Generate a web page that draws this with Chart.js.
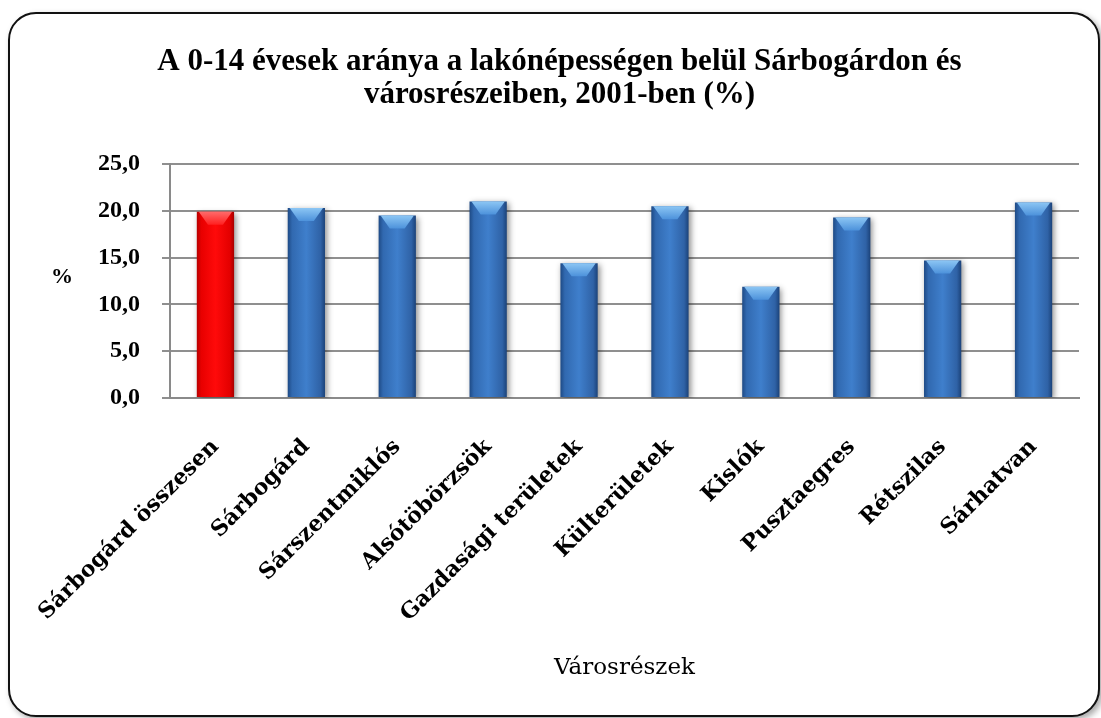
<!DOCTYPE html>
<html>
<head>
<meta charset="utf-8">
<script src="https://cdn.jsdelivr.net/npm/chart.js@4"></script>
<style>
  html, body { margin: 0; padding: 0; background: #fff; overflow: hidden; }
  #frame {
    position: absolute; left: 8px; top: 12px; width: 1088px; height: 701px;
    border: 2px solid #111; border-radius: 28px; background: #fff;
    box-shadow: 3px 3px 6px rgba(0,0,0,0.35);
    overflow: hidden;
  }
  #chart { display: block; }
</style>
</head>
<body>
<div id="frame"><canvas id="chart" width="1088" height="701"></canvas></div>
<script>
const categories = ['Sárbogárd összesen', 'Sárbogárd', 'Sárszentmiklós', 'Alsótöbörzsök',
  'Gazdasági területek', 'Külterületek', 'Kislók', 'Pusztaegres', 'Rétszilas', 'Sárhatvan'];
const values = [19.9, 20.3, 19.5, 21.0, 14.4, 20.5, 11.9, 19.3, 14.7, 20.9];
const yTicks = [0, 5, 10, 15, 20, 25];

const SERIF = '"Liberation Serif", "DejaVu Serif", serif';
const WIDE_SERIF = '"DejaVu Serif", "Liberation Serif", serif';
const BAR_PCT = 0.41;

function barFill(ctx) {
  const chart = ctx.chart;
  const xs = chart.scales.x;
  const red = ctx.dataIndex === 0;
  if (!xs || xs.width == null) return red ? '#f00000' : '#3a76c0';
  const cx = xs.getPixelForValue(ctx.dataIndex);
  const w = xs.width / categories.length * BAR_PCT;
  const g = chart.ctx.createLinearGradient(cx - w / 2, 0, cx + w / 2, 0);
  if (red) {
    g.addColorStop(0, '#b80000');
    g.addColorStop(0.12, '#e80000');
    g.addColorStop(0.5, '#ff0a0a');
    g.addColorStop(0.88, '#e40000');
    g.addColorStop(1, '#a80000');
  } else {
    g.addColorStop(0, '#1e4a85');
    g.addColorStop(0.12, '#3169b0');
    g.addColorStop(0.5, '#3f7fcc');
    g.addColorStop(0.88, '#2f62a6');
    g.addColorStop(1, '#1b4279');
  }
  return g;
}

const barEffects = {
  id: 'barEffects',
  beforeDatasetsDraw(chart) {
    const c = chart.ctx;
    c.save();
    c.shadowColor = 'rgba(0,0,0,0.45)';
    c.shadowBlur = 6;
    c.shadowOffsetX = 2;
    c.shadowOffsetY = 2;
  },
  afterDatasetsDraw(chart) {
    const c = chart.ctx;
    c.restore();
    // light bevel on top of each bar
    chart.getDatasetMeta(0).data.forEach((bar, i) => {
      const w = bar.width, l = bar.x - w / 2, r = bar.x + w / 2, t = bar.y;
      const d = 13;
      const g = c.createLinearGradient(0, t, 0, t + d);
      if (i === 0) { g.addColorStop(0, '#ff6a6a'); g.addColorStop(1, '#ff2020'); }
      else { g.addColorStop(0, '#8cc6f4'); g.addColorStop(1, '#4d92db'); }
      c.save();
      c.fillStyle = g;
      c.beginPath();
      c.moveTo(l + 2, t);
      c.lineTo(r - 2, t);
      c.lineTo(r - w * 0.3, t + d);
      c.lineTo(l + w * 0.3, t + d);
      c.closePath();
      c.fill();
      c.restore();
    });
  }
};

const yLabel = {
  id: 'yLabel',
  afterDraw(chart) {
    const c = chart.ctx, a = chart.chartArea;
    c.save();
    c.font = 'bold 22px ' + SERIF;
    c.fillStyle = '#000';
    c.textAlign = 'center';
    c.textBaseline = 'middle';
    c.fillText('%', 52, (a.top + a.bottom) / 2 - 4);
    c.restore();
  }
};

new Chart(document.getElementById('chart'), {
  type: 'bar',
  data: {
    labels: categories,
    datasets: [{
      data: values,
      backgroundColor: barFill,
      borderWidth: 0,
      barPercentage: BAR_PCT,
      categoryPercentage: 1
    }]
  },
  plugins: [barEffects, yLabel],
  options: {
    responsive: false,
    animation: false,
    layout: { padding: { left: 30, right: 19, top: 0, bottom: 33 } },
    plugins: {
      legend: { display: false },
      tooltip: { enabled: false },
      title: {
        display: true,
        text: ['A 0-14 évesek aránya a lakónépességen belül Sárbogárdon és', 'városrészeiben, 2001-ben (%)'],
        font: { family: SERIF, size: 31, weight: 'bold', lineHeight: 1.065 },
        color: '#000',
        padding: { top: 31, bottom: 53 }
      }
    },
    scales: {
      x: {
        grid: { display: false },
        border: { color: '#8a8a8a', width: 2 },
        afterFit(axis) {
          axis.height = 284;
          axis.paddingLeft = 0;
          axis.paddingRight = 0;
        },
        ticks: {
          color: '#000',
          font: { family: WIDE_SERIF, size: 22, weight: 'bold' },
          minRotation: 45, maxRotation: 45,
          padding: 28
        },
        title: {
          display: true,
          text: 'Városrészek',
          color: '#000',
          font: { family: WIDE_SERIF, size: 23 },
          padding: 0
        }
      },
      y: {
        min: 0, max: 25,
        afterBuildTicks(axis) { axis.ticks = yTicks.map(v => ({ value: v })); },
        afterFit(axis) { axis.width = 130; },
        grid: { color: '#8f8f8f', lineWidth: 2, tickLength: 8 },
        border: { color: '#8a8a8a', width: 2 },
        ticks: {
          color: '#000',
          font: { family: SERIF, size: 24, weight: 'bold' },
          padding: 22,
          callback: v => v.toFixed(1).replace('.', ',')
        }
      }
    }
  }
});
</script>
</body>
</html>
